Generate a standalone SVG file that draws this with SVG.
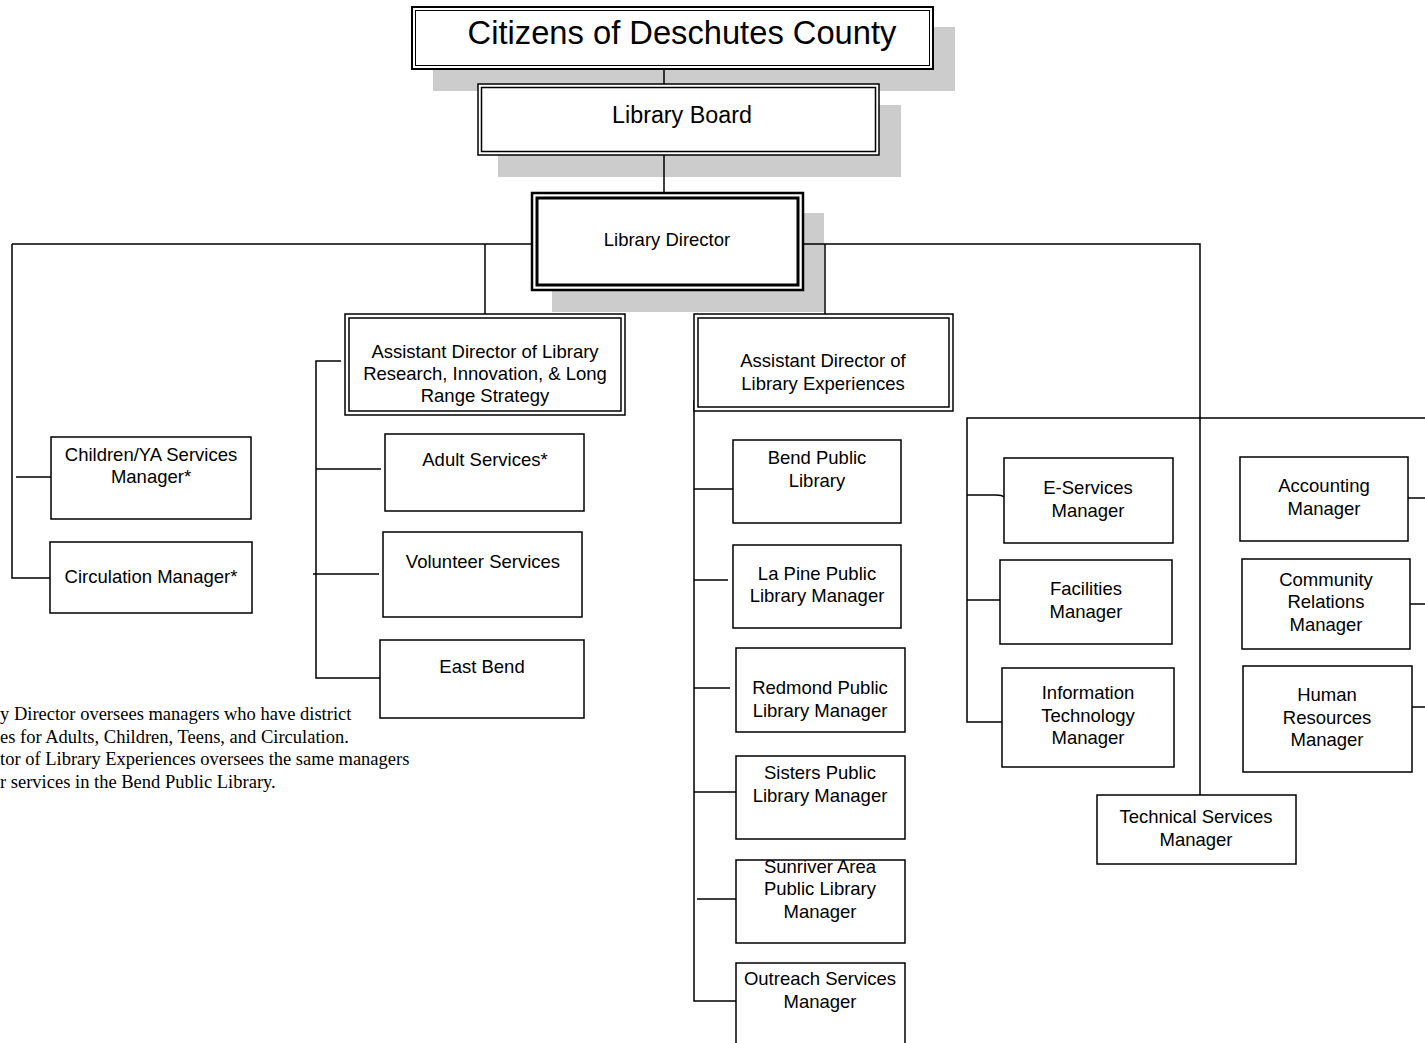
<svg xmlns="http://www.w3.org/2000/svg" width="1425" height="1043" viewBox="0 0 1425 1043">
<style>
  .bg { fill: #ffffff; }
  .box { fill: #ffffff; stroke: #000; stroke-width: 1.5; }
  .inner { fill: none; stroke: #000; stroke-width: 1.5; }
  .shadow { fill: #cccccc; }
  .ln { fill: none; stroke: #000; stroke-width: 1.5; }
  .t { font-family: "Liberation Sans", Arial, sans-serif; font-size: 18.5px; fill: #000; text-anchor: middle; }
  .title { font-size: 32.7px; }
  .board { font-size: 23.3px; }
  .note { font-family: "Liberation Serif", "Times New Roman", serif; font-size: 18.5px; fill: #000; }
</style>
<rect class="bg" x="0" y="0" width="1425" height="1043"/>

<g id="shadows">
  <rect class="shadow" x="433" y="27" width="522" height="64"/>
  <rect class="shadow" x="498" y="105" width="403" height="72"/>
  <rect class="shadow" x="552" y="213" width="272" height="99"/>
</g>

<g id="connectors">
  <path class="ln" d="M664,69 V84"/>
  <path class="ln" d="M664,155 V193"/>
  <path class="ln" d="M12,244 H1200 V795"/>
  <path class="ln" d="M12,244 V578 H50"/>
  <path class="ln" d="M16,477 H51"/>
  <path class="ln" d="M485,244 V314"/>
  <path class="ln" d="M825,244 V314"/>
  <path class="ln" d="M341,361 H316 V678 H380"/>
  <path class="ln" d="M316,469 H381"/>
  <path class="ln" d="M313,574 H379"/>
  <path class="ln" d="M694,400 V1001 H736"/>
  <path class="ln" d="M694,489 H733"/>
  <path class="ln" d="M694,580 H728"/>
  <path class="ln" d="M694,688 H730"/>
  <path class="ln" d="M694,792 H736"/>
  <path class="ln" d="M697,899 H736"/>
  <path class="ln" d="M1425,418 H967 V722 H1002"/>
  <path class="ln" d="M967,495 H996 Q1002,495 1004,497"/>
  <path class="ln" d="M967,600 H1000"/>
  <path class="ln" d="M1408,498 H1425"/>
  <path class="ln" d="M1410,604 H1425"/>
  <path class="ln" d="M1412,707 H1425"/>
</g>

<g id="citizens">
  <rect class="box" x="412" y="7" width="521" height="62" style="stroke-width:2"/>
  <rect class="inner" x="415.5" y="10.5" width="514" height="55" style="stroke-width:1"/>
  <text class="t title" x="682" y="44">Citizens of Deschutes County</text>
</g>

<g id="library-board">
  <rect class="box" x="478" y="84" width="401" height="71"/>
  <rect class="inner" x="481.5" y="87.5" width="394" height="64"/>
  <text class="t board" x="682" y="123">Library Board</text>
</g>

<g id="library-director">
  <rect class="box" x="532" y="193" width="271" height="97" style="stroke-width:2.5"/>
  <rect class="inner" x="537" y="198" width="261" height="87" style="stroke-width:3"/>
  <text class="t" x="667" y="246">Library Director</text>
</g>

<g id="asst-dir-research">
  <rect class="box" x="345" y="314" width="280" height="101"/>
  <rect class="inner" x="349" y="318" width="272" height="93"/>
  <text class="t" x="485" y="358">Assistant Director of Library</text>
  <text class="t" x="485" y="380">Research, Innovation, &amp; Long</text>
  <text class="t" x="485" y="402">Range Strategy</text>
</g>

<g id="asst-dir-experiences">
  <rect class="box" x="694" y="314" width="259" height="97"/>
  <rect class="inner" x="698" y="318" width="251" height="89"/>
  <text class="t" x="823" y="367">Assistant Director of</text>
  <text class="t" x="823" y="390">Library Experiences</text>
</g>

<g id="children-ya">
  <rect class="box" x="51" y="437" width="200" height="82"/>
  <text class="t" x="151" y="461">Children/YA Services</text>
  <text class="t" x="151" y="483">Manager*</text>
</g>

<g id="circulation">
  <rect class="box" x="50" y="542" width="202" height="71"/>
  <text class="t" x="151" y="583">Circulation Manager*</text>
</g>

<g id="adult-services">
  <rect class="box" x="385" y="434" width="199" height="77"/>
  <text class="t" x="485" y="466">Adult Services*</text>
</g>

<g id="volunteer-services">
  <rect class="box" x="383" y="532" width="199" height="85"/>
  <text class="t" x="483" y="568">Volunteer Services</text>
</g>

<g id="east-bend">
  <rect class="box" x="380" y="640" width="204" height="78"/>
  <text class="t" x="482" y="673">East Bend</text>
</g>

<g id="bend-public">
  <rect class="box" x="733" y="440" width="168" height="83"/>
  <text class="t" x="817" y="464">Bend Public</text>
  <text class="t" x="817" y="487">Library</text>
</g>

<g id="la-pine">
  <rect class="box" x="733" y="545" width="168" height="83"/>
  <text class="t" x="817" y="580">La Pine Public</text>
  <text class="t" x="817" y="602">Library Manager</text>
</g>

<g id="redmond">
  <rect class="box" x="736" y="648" width="169" height="84"/>
  <text class="t" x="820" y="694">Redmond Public</text>
  <text class="t" x="820" y="717">Library Manager</text>
</g>

<g id="sisters">
  <rect class="box" x="736" y="756" width="169" height="83"/>
  <text class="t" x="820" y="779">Sisters Public</text>
  <text class="t" x="820" y="802">Library Manager</text>
</g>

<g id="sunriver">
  <rect class="box" x="736" y="860" width="169" height="83"/>
  <text class="t" x="820" y="873">Sunriver Area</text>
  <text class="t" x="820" y="895">Public Library</text>
  <text class="t" x="820" y="918">Manager</text>
</g>

<g id="outreach">
  <rect class="box" x="736" y="963" width="169" height="95"/>
  <text class="t" x="820" y="985">Outreach Services</text>
  <text class="t" x="820" y="1008">Manager</text>
</g>

<g id="e-services">
  <rect class="box" x="1004" y="458" width="169" height="85"/>
  <text class="t" x="1088" y="494">E-Services</text>
  <text class="t" x="1088" y="517">Manager</text>
</g>

<g id="facilities">
  <rect class="box" x="1000" y="560" width="172" height="84"/>
  <text class="t" x="1086" y="595">Facilities</text>
  <text class="t" x="1086" y="618">Manager</text>
</g>

<g id="information-technology">
  <rect class="box" x="1002" y="668" width="172" height="99"/>
  <text class="t" x="1088" y="699">Information</text>
  <text class="t" x="1088" y="722">Technology</text>
  <text class="t" x="1088" y="744">Manager</text>
</g>

<g id="accounting">
  <rect class="box" x="1240" y="457" width="168" height="84"/>
  <text class="t" x="1324" y="492">Accounting</text>
  <text class="t" x="1324" y="515">Manager</text>
</g>

<g id="community-relations">
  <rect class="box" x="1242" y="559" width="168" height="90"/>
  <text class="t" x="1326" y="586">Community</text>
  <text class="t" x="1326" y="608">Relations</text>
  <text class="t" x="1326" y="631">Manager</text>
</g>

<g id="human-resources">
  <rect class="box" x="1243" y="666" width="169" height="106"/>
  <text class="t" x="1327" y="701">Human</text>
  <text class="t" x="1327" y="724">Resources</text>
  <text class="t" x="1327" y="746">Manager</text>
</g>

<g id="technical-services">
  <rect class="box" x="1097" y="795" width="199" height="69"/>
  <text class="t" x="1196" y="823">Technical Services</text>
  <text class="t" x="1196" y="846">Manager</text>
</g>

<g id="note">
  <text class="note" x="0" y="720">y Director oversees managers who have district</text>
  <text class="note" x="0" y="742.5">es for Adults, Children, Teens, and Circulation.</text>
  <text class="note" x="0" y="765">tor of Library Experiences oversees the same managers</text>
  <text class="note" x="0" y="787.5">r services in the Bend Public Library.</text>
</g>
</svg>
